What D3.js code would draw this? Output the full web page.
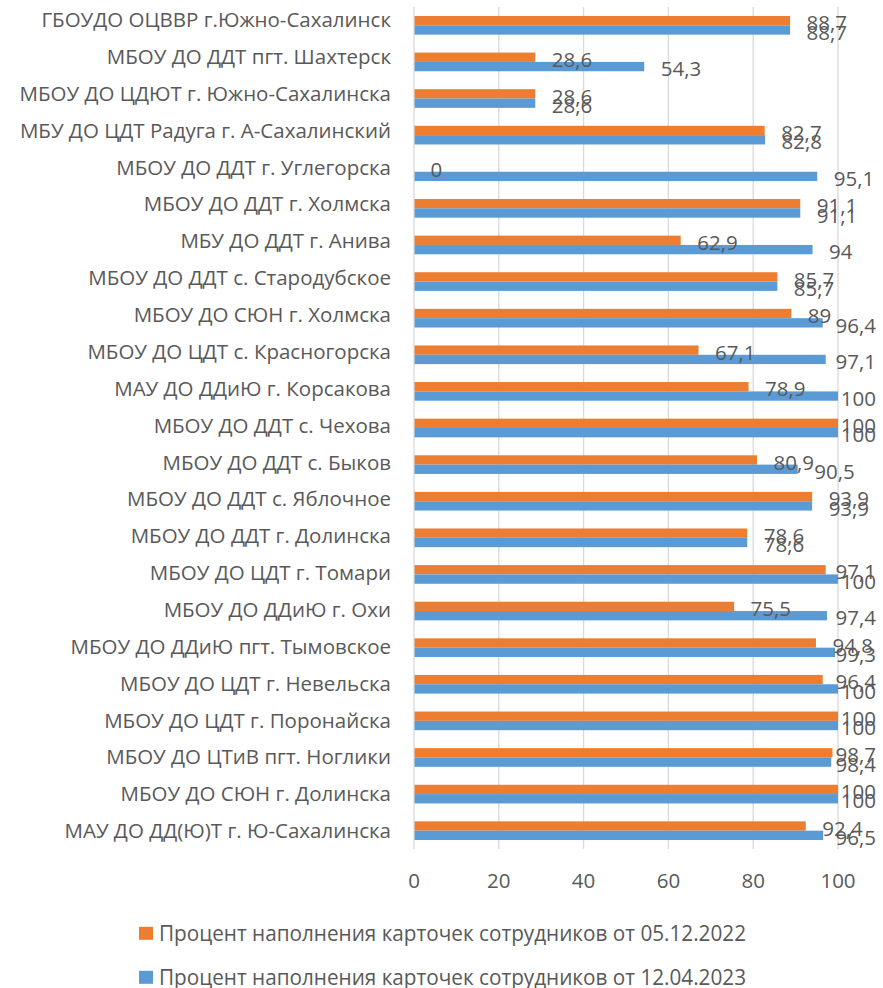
<!DOCTYPE html>
<html>
<head>
<meta charset="utf-8">
<script src="https://cdn.jsdelivr.net/npm/d3@7"></script>
<style>
  body { margin: 0; background: #fff; }
  text { font-family: "Open Sans", sans-serif; fill: #595959; }
</style>
</head>
<body>
<div id="chart"></div>
<script>
// chart data
var categories = [
  "ГБОУДО ОЦВВР г.Южно-Сахалинск",
  "МБОУ ДО ДДТ пгт. Шахтерск",
  "МБОУ ДО ЦДЮТ г. Южно-Сахалинска",
  "МБУ ДО ЦДТ Радуга г. А-Сахалинский",
  "МБОУ ДО ДДТ г. Углегорска",
  "МБОУ ДО ДДТ г. Холмска",
  "МБУ ДО ДДТ г. Анива",
  "МБОУ ДО ДДТ с. Стародубское",
  "МБОУ ДО СЮН г. Холмска",
  "МБОУ ДО ЦДТ с. Красногорска",
  "МАУ ДО ДДиЮ г. Корсакова",
  "МБОУ ДО ДДТ с. Чехова",
  "МБОУ ДО ДДТ с. Быков",
  "МБОУ ДО ДДТ с. Яблочное",
  "МБОУ ДО ДДТ г. Долинска",
  "МБОУ ДО ЦДТ г. Томари",
  "МБОУ ДО ДДиЮ г. Охи",
  "МБОУ ДО ДДиЮ пгт. Тымовское",
  "МБОУ ДО ЦДТ г. Невельска",
  "МБОУ ДО ЦДТ г. Поронайска",
  "МБОУ ДО ЦТиВ пгт. Ноглики",
  "МБОУ ДО СЮН г. Долинска",
  "МАУ ДО ДД(Ю)Т г. Ю-Сахалинска"
];
var values2022 = [88.7, 28.6, 28.6, 82.7, 0, 91.1, 62.9, 85.7, 89, 67.1, 78.9, 100, 80.9, 93.9, 78.6, 97.1, 75.5, 94.8, 96.4, 100, 98.7, 100, 92.4];
var values2023 = [88.7, 54.3, 28.6, 82.8, 95.1, 91.1, 94, 85.7, 96.4, 97.1, 100, 100, 90.5, 93.9, 78.6, 100, 97.4, 99.3, 100, 100, 98.4, 100, 96.5];
var xTicks = [0, 20, 40, 60, 80, 100];
var seriesNames = [
  "Процент наполнения карточек сотрудников от 05.12.2022",
  "Процент наполнения карточек сотрудников от 12.04.2023"
];
var colors = ["#ED7D31", "#5B9BD5"];

var W = 883, H = 988;
var plotTop = 7, plotBottom = 849, labelRight = 876;

var svg = d3.select("#chart").append("svg")
  .attr("width", W).attr("height", H);

var x = d3.scaleLinear().domain([0, 100]).range([414, 838]);
var y = d3.scaleBand().domain(categories).range([plotTop, plotBottom]).paddingInner(0.49).paddingOuter(0.245);
var sub = d3.scaleBand().domain([0, 1]).range([0, y.bandwidth()]);
// category labels sit on a slightly different spacing in the original
var yLab = d3.scalePoint().domain(categories).range([20, 831]);

// gridlines
svg.append("g").selectAll("line")
  .data(xTicks.slice(1))
  .enter().append("line")
    .attr("x1", function(d) { return x(d); })
    .attr("x2", function(d) { return x(d); })
    .attr("y1", plotTop)
    .attr("y2", plotBottom)
    .attr("stroke", "#D9D9D9")
    .attr("stroke-width", 1.3);

var rows = [];
categories.forEach(function(c, i) {
  rows.push({cat: c, s: 0, v: values2022[i]});
  rows.push({cat: c, s: 1, v: values2023[i]});
});

// bars
svg.append("g").selectAll("rect")
  .data(rows)
  .enter().append("rect")
    .attr("x", x(0))
    .attr("y", function(d) { return y(d.cat) + sub(d.s); })
    .attr("width", function(d) { return x(d.v) - x(0); })
    .attr("height", sub.bandwidth())
    .attr("fill", function(d) { return colors[d.s]; });

// vertical axis line
svg.append("line")
  .attr("x1", x(0)).attr("x2", x(0))
  .attr("y1", plotTop).attr("y2", plotBottom)
  .attr("stroke", "#D9D9D9").attr("stroke-width", 1.3);

// value labels (kept inside the chart area like Excel does)
svg.append("g").selectAll("text")
  .data(rows)
  .enter().append("text")
    .attr("y", function(d) { return y(d.cat) + sub(d.s) + sub.bandwidth() / 2 + 2.5; })
    .attr("dy", "0.35em")
    .style("font-size", "20.5px")
    .text(function(d) { return String(d.v).replace(".", ","); })
    .attr("x", function(d) {
      var w = this.getComputedTextLength();
      return Math.min(x(d.v) + 16.5, labelRight - w);
    });

// category labels
svg.append("g").selectAll("text")
  .data(categories)
  .enter().append("text")
    .attr("x", 391)
    .attr("y", function(d) { return yLab(d); })
    .attr("dy", "0.35em")
    .attr("text-anchor", "end")
    .style("font-size", "20.5px")
    .text(function(d) { return d; });

// x tick labels
svg.append("g").selectAll("text")
  .data(xTicks)
  .enter().append("text")
    .attr("x", function(d) { return x(d); })
    .attr("y", 881)
    .attr("dy", "0.35em")
    .attr("text-anchor", "middle")
    .style("font-size", "20.5px")
    .text(function(d) { return d; });

// legend
var legend = svg.append("g").selectAll("g")
  .data(seriesNames)
  .enter().append("g")
    .attr("transform", function(d, i) { return "translate(139," + (933.3 + i * 44) + ")"; });
legend.append("rect")
  .attr("x", 0).attr("y", -6.5)
  .attr("width", 14).attr("height", 13)
  .attr("fill", function(d, i) { return colors[i]; });
legend.append("text")
  .attr("x", 20).attr("y", 0)
  .attr("dy", "0.35em")
  .attr("textLength", 587)
  .attr("lengthAdjust", "spacingAndGlyphs")
  .style("font-size", "21px")
  .text(function(d) { return d; });
</script>
</body>
</html>
